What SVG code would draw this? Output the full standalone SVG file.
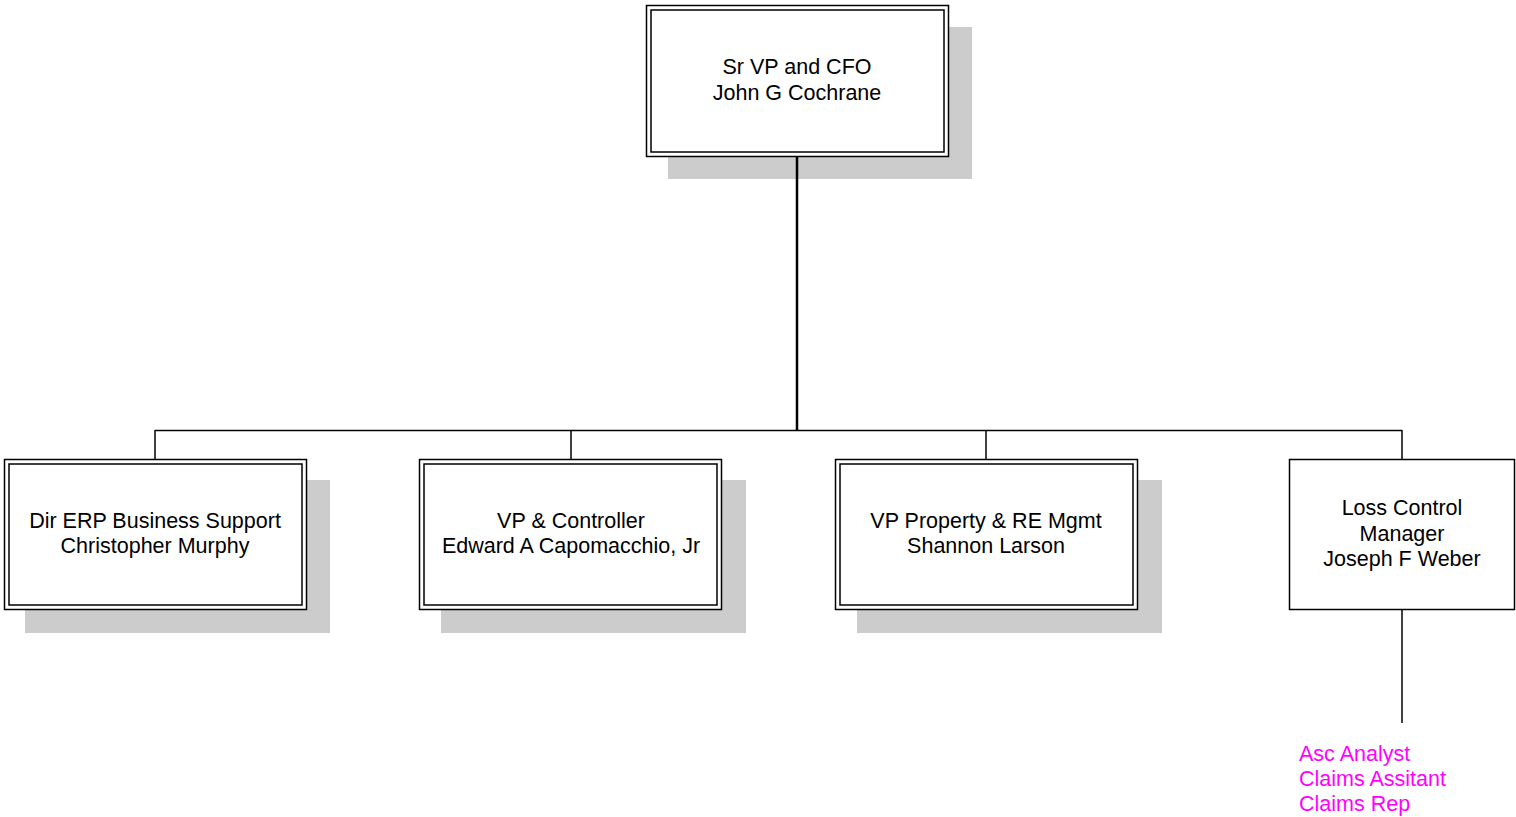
<svg xmlns="http://www.w3.org/2000/svg" width="1516" height="817" viewBox="0 0 1516 817">
<style>
.sh{fill:#cccccc}
.ob{fill:#fff;stroke:#000;stroke-width:1.5}
.ib{fill:none;stroke:#000;stroke-width:1.5}
.t{font-family:"Liberation Sans",Arial,sans-serif;font-size:21.5px;text-anchor:middle;fill:#000}
.m{font-family:"Liberation Sans",Arial,sans-serif;font-size:21.5px;fill:#ff00ff}
.c{stroke:#000;fill:none}
</style>
<rect width="1516" height="817" fill="#fff"/>
<g id="cfo">
<rect class="sh" x="668" y="27" width="304" height="152"/>
<rect class="ob" x="646.5" y="5.5" width="302" height="151"/>
<rect class="ib" x="651" y="10" width="293" height="142"/>
<text class="t" x="797" y="74">Sr VP and CFO</text>
<text class="t" x="797" y="100">John G Cochrane</text>
</g>
<g id="erp">
<rect class="sh" x="25" y="480" width="305" height="153"/>
<rect class="ob" x="4.5" y="459.5" width="302" height="150"/>
<rect class="ib" x="9" y="464" width="293" height="141"/>
<text class="t" x="155" y="528">Dir ERP Business Support</text>
<text class="t" x="155" y="553">Christopher Murphy</text>
</g>
<g id="controller">
<rect class="sh" x="441" y="480" width="305" height="153"/>
<rect class="ob" x="419.5" y="459.5" width="302" height="150"/>
<rect class="ib" x="424" y="464" width="293" height="141"/>
<text class="t" x="571" y="528">VP &amp; Controller</text>
<text class="t" x="571" y="553">Edward A Capomacchio, Jr</text>
</g>
<g id="property">
<rect class="sh" x="857" y="480" width="305" height="153"/>
<rect class="ob" x="835.5" y="459.5" width="302" height="150"/>
<rect class="ib" x="840" y="464" width="293" height="141"/>
<text class="t" x="986" y="528">VP Property &amp; RE Mgmt</text>
<text class="t" x="986" y="553">Shannon Larson</text>
</g>
<g id="losscontrol">
<rect class="ob" x="1289.5" y="459.5" width="225" height="150"/>
<text class="t" x="1402" y="515">Loss Control</text>
<text class="t" x="1402" y="541">Manager</text>
<text class="t" x="1402" y="566">Joseph F Weber</text>
</g>
<g id="staff">
<text class="m" x="1299" y="761">Asc Analyst</text>
<text class="m" x="1299" y="786">Claims Assitant</text>
<text class="m" x="1299" y="811">Claims Rep</text>
</g>
<g id="connectors">
<line class="c" x1="797" y1="156" x2="797" y2="431" stroke-width="2.5"/>
<line class="c" x1="155" y1="430.5" x2="1402" y2="430.5" stroke-width="1.5"/>
<line class="c" x1="155" y1="430" x2="155" y2="459" stroke-width="1.5"/>
<line class="c" x1="571" y1="430" x2="571" y2="459" stroke-width="1.5"/>
<line class="c" x1="986" y1="430" x2="986" y2="459" stroke-width="1.5"/>
<line class="c" x1="1402" y1="430" x2="1402" y2="459" stroke-width="1.5"/>
<line class="c" x1="1402" y1="609" x2="1402" y2="723" stroke-width="1.5"/>
</g>
</svg>
